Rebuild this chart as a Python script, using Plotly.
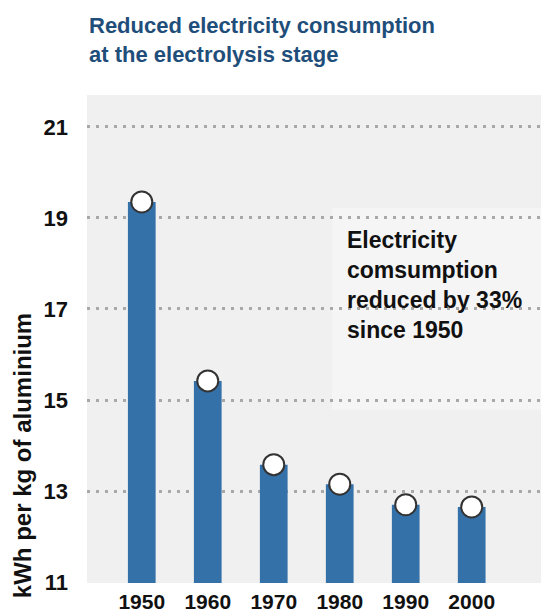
import plotly.graph_objects as go

years = ["1950", "1960", "1970", "1980", "1990", "2000"]
kwh = [19.35, 15.42, 13.58, 13.15, 12.7, 12.65]
y_ticks = [11, 13, 15, 17, 19, 21]

title_text = "Reduced electricity consumption<br>at the electrolysis stage"
note_text = "Electricity<br>comsumption<br>reduced by 33%<br>since 1950"
y_title = "kWh per kg of aluminium"

FONT = "Liberation Sans, Arial, sans-serif"
BAR = "#3471a9"

fig = go.Figure()
fig.add_trace(go.Bar(x=years, y=kwh, marker=dict(color=BAR, line=dict(width=0)),
                     width=0.42, hoverinfo="skip"))
fig.add_trace(go.Scatter(x=years, y=kwh, mode="markers",
                         marker=dict(size=21, color="white",
                                     line=dict(color="#333333", width=2)),
                         hoverinfo="skip"))

# lighter box behind the note
fig.add_shape(type="rect", xref="x", yref="y", x0=2.88, x1=6.1, y0=14.78, y1=19.22,
              fillcolor="#f5f5f5", line=dict(width=0), layer="below")

fig.add_annotation(x=3.08, y=18.85, xref="x", yref="y", xanchor="left", yanchor="top",
                   text="<b>" + note_text + "</b>", showarrow=False, align="left",
                   font=dict(family=FONT, size=23, color="#111111"))

fig.add_annotation(x=-0.143, y=-0.036, xref="paper", yref="paper", textangle=-90,
                   xanchor="center", yanchor="bottom",
                   text="<b>" + y_title + "</b>", showarrow=False,
                   font=dict(family=FONT, size=24, color="#111111"))

fig.add_annotation(x=0, y=1.172, xref="paper", yref="paper", xanchor="left", yanchor="top",
                   text="<b>" + title_text + "</b>", showarrow=False, align="left",
                   font=dict(family=FONT, size=22, color="#1f4e7a"))

fig.update_layout(
    width=541, height=613,
    margin=dict(l=87, r=0, t=95, b=30),
    paper_bgcolor="white", plot_bgcolor="#f0f0f0",
    showlegend=False,
    xaxis=dict(type="category", range=[-0.83, 6.05], showgrid=False, zeroline=False,
               showline=False, ticks="", ticklabelstandoff=4,
               tickfont=dict(family=FONT, size=21, color="#111111", weight="bold")),
    yaxis=dict(range=[10.98, 21.7], tickvals=y_ticks, showgrid=True,
               gridcolor="#a8a8a8", gridwidth=2.5, griddash="3px,6px",
               zeroline=False, showline=False, ticks="", ticklabelstandoff=18,
               tickfont=dict(family=FONT, size=22, color="#111111", weight="bold")),
)

fig.write_html("out.html")
